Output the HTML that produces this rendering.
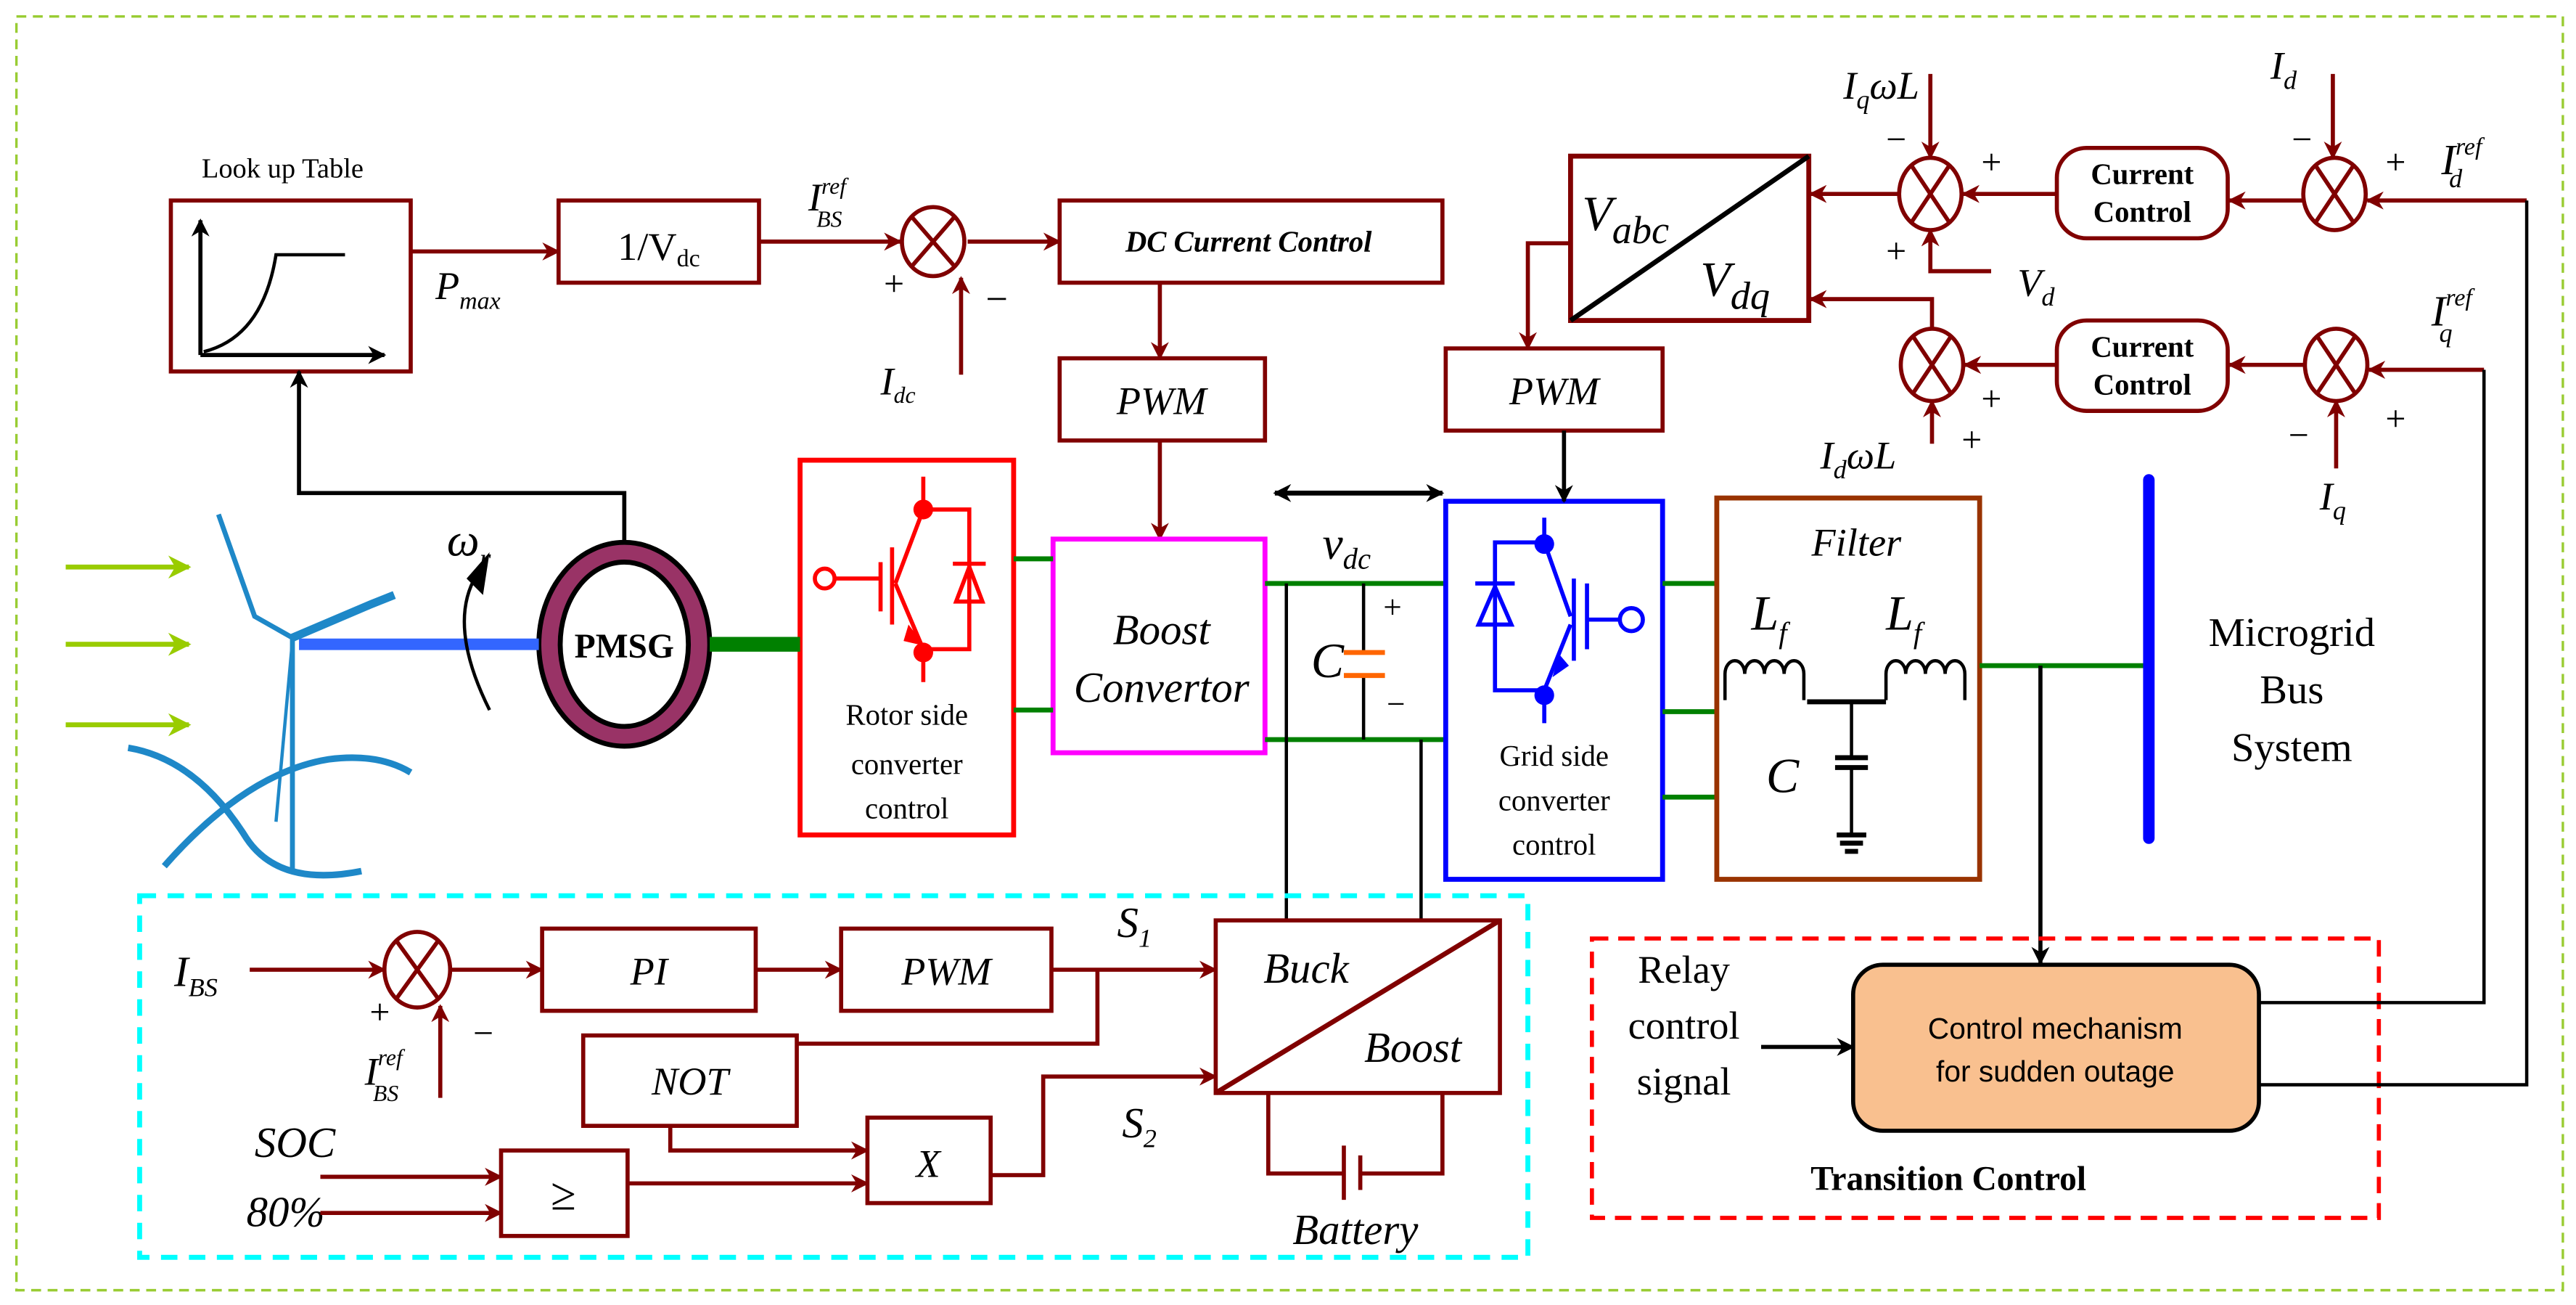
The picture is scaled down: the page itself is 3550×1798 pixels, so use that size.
<!DOCTYPE html>
<html><head><meta charset="utf-8"><style>
html,body{margin:0;padding:0;background:#fff}
svg{display:block}
text{font-family:"Liberation Serif",serif}
.it{font-style:italic}
</style></head><body>
<svg width="3550" height="1798" viewBox="0 0 1568 794" preserveAspectRatio="none" xmlns="http://www.w3.org/2000/svg">
<defs>
<marker id="ar" viewBox="0 0 10 10" refX="9" refY="5" markerWidth="14" markerHeight="11" orient="auto-start-reverse" markerUnits="userSpaceOnUse" ><path d="M0,0 L10,5 L0,10 L3,5z" fill="#800000"/></marker>
<marker id="ab" viewBox="0 0 10 10" refX="9" refY="5" markerWidth="14" markerHeight="11" orient="auto-start-reverse" markerUnits="userSpaceOnUse"><path d="M0,0 L10,5 L0,10 L3,5z" fill="#000"/></marker>
<marker id="ag" viewBox="0 0 10 10" refX="9" refY="5" markerWidth="14" markerHeight="14" orient="auto" markerUnits="userSpaceOnUse"><path d="M0,0 L10,5 L0,10 L3,5z" fill="#99cc00"/></marker>
</defs>
<style>
.r{stroke:#800000;fill:none;stroke-width:2.5}
.ra{stroke:#800000;fill:none;stroke-width:2.5;marker-end:url(#ar)}
.ba{stroke:#000;fill:none;stroke-width:2.5;marker-end:url(#ab)}
.b{stroke:#000;fill:none;stroke-width:2}
.g{stroke:#008000;stroke-width:3;fill:none}
</style>
<rect x="10" y="10" width="1550" height="775" fill="none" stroke="#99cc33" stroke-width="1.5" stroke-dasharray="6,4"/>

<text x="172" y="108" font-size="17" text-anchor="middle">Look up Table</text>
<rect x="104" y="122" width="146" height="104" class="r" stroke-width="3"/>
<line x1="122" y1="216" x2="122" y2="134" class="ba"/>
<line x1="122" y1="216" x2="234" y2="216" class="ba"/>
<path d="M124,214 Q160,205 168,155 L210,155" class="b"/>
<line x1="250" y1="153" x2="340" y2="153" class="ra"/>
<text x="265" y="182" font-size="24" class="it">P<tspan font-size="15" dy="6">max</tspan></text>
<rect x="340" y="122" width="122" height="50" class="r" stroke-width="3"/>
<text x="401" y="158" font-size="24" text-anchor="middle">1/V<tspan font-size="15" dy="4">dc</tspan></text>
<line x1="462" y1="147" x2="548" y2="147" class="ra"/>
<text x="492" y="128" font-size="24" class="it">I<tspan font-size="14" dy="-10">ref</tspan><tspan font-size="14" dx="-18" dy="20">BS</tspan></text>
<g class="r"><ellipse cx="568" cy="147" rx="19" ry="21"/><line x1="555" y1="132" x2="581" y2="162"/><line x1="581" y1="132" x2="555" y2="162"/></g>
<text x="538" y="180" font-size="22">+</text><text x="600" y="190" font-size="24">−</text>
<line x1="585" y1="228" x2="585" y2="169" class="ra"/>
<text x="536" y="240" font-size="24" class="it">I<tspan font-size="14" dy="5">dc</tspan></text>
<line x1="589" y1="147" x2="645" y2="147" class="ra"/>
<rect x="645" y="122" width="233" height="50" class="r" stroke-width="3"/>
<text x="760" y="153" font-size="18" font-weight="bold" class="it" text-anchor="middle">DC Current Control</text>
<line x1="706" y1="172" x2="706" y2="218" class="ra"/>
<rect x="645" y="218" width="125" height="50" class="r" stroke-width="3"/>
<text x="707" y="252" font-size="24" class="it" text-anchor="middle">PWM</text>
<line x1="706" y1="268" x2="706" y2="328" class="ra"/>

<rect x="641" y="328" width="129" height="130" fill="none" stroke="#ff00ff" stroke-width="3"/>
<text x="707" y="392" font-size="26" class="it" text-anchor="middle">Boost</text>
<text x="707" y="427" font-size="26" class="it" text-anchor="middle">Convertor</text>

<rect x="487" y="280" width="130" height="228" fill="none" stroke="#ff0000" stroke-width="3"/>
<g stroke="#ff0000" stroke-width="2.5" fill="none">
<line x1="562" y1="290" x2="562" y2="310"/><line x1="562" y1="395" x2="562" y2="415"/>
<path d="M562,310 L545,355 M562,395 L545,355"/>
<line x1="543" y1="333" x2="543" y2="380"/><line x1="536" y1="342" x2="536" y2="372"/>
<line x1="506" y1="352" x2="536" y2="352"/>
<path d="M562,310 H590 V395 H562"/>
<path d="M580,343 H600 M582,366 L590,345 L598,366 Z"/>
</g>
<circle cx="562" cy="310" r="6" fill="#ff0000"/><circle cx="562" cy="397" r="6" fill="#ff0000"/>
<circle cx="502" cy="352" r="6" fill="#fff" stroke="#ff0000" stroke-width="2.5"/>
<path d="M553,380 L563,393 L550,390z" fill="#ff0000"/>
<text x="552" y="441" font-size="18" text-anchor="middle">Rotor side</text>
<text x="552" y="471" font-size="18" text-anchor="middle">converter</text>
<text x="552" y="498" font-size="18" text-anchor="middle">control</text>
<line x1="617" y1="340" x2="641" y2="340" class="g"/><line x1="617" y1="432" x2="641" y2="432" class="g"/>

<ellipse cx="380" cy="392" rx="52" ry="62" fill="#993366" stroke="#000" stroke-width="3"/>
<ellipse cx="380" cy="392" rx="39" ry="50" fill="#fff" stroke="#000" stroke-width="3"/>
<text x="380" y="400" font-size="21" font-weight="bold" text-anchor="middle">PMSG</text>
<polyline points="380,330 380,300 182,300 182,226" class="ba"/>
<line x1="182" y1="392" x2="328" y2="392" stroke="#3366ff" stroke-width="7"/>
<line x1="432" y1="392" x2="487" y2="392" stroke="#008000" stroke-width="9"/>
<text x="272" y="338" font-size="28" class="it">ω<tspan font-size="18" dy="8">r</tspan></text>
<path d="M298,432 Q272,380 290,350" fill="none" stroke="#000" stroke-width="2"/>
<path d="M284,352 L298,336 L294,362z" fill="#000"/>

<line x1="40" y1="345" x2="115" y2="345" stroke="#99cc00" stroke-width="3" marker-end="url(#ag)"/>
<line x1="40" y1="392" x2="115" y2="392" stroke="#99cc00" stroke-width="3" marker-end="url(#ag)"/>
<line x1="40" y1="441" x2="115" y2="441" stroke="#99cc00" stroke-width="3" marker-end="url(#ag)"/>
<g stroke="#1e88c8" fill="none">
<path d="M133,313 L155,375 L178,388" stroke-width="3"/>
<path d="M178,388 L225,368 L240,362" stroke-width="5"/>
<path d="M178,390 L168,500" stroke-width="2"/>
<line x1="178" y1="388" x2="178" y2="530" stroke-width="3"/>
<path d="M78,455 Q120,462 150,510 Q170,540 220,530" stroke-width="4"/>
<path d="M100,527 Q150,470 200,462 Q230,458 250,470" stroke-width="4"/>
</g>

<line x1="770" y1="355" x2="880" y2="355" class="g"/><line x1="770" y1="450" x2="880" y2="450" class="g"/>
<line x1="830" y1="355" x2="830" y2="397" class="b"/><line x1="830" y1="412" x2="830" y2="450" class="b"/>
<line x1="818" y1="397" x2="843" y2="397" stroke="#ff6600" stroke-width="3"/><line x1="818" y1="411" x2="843" y2="411" stroke="#ff6600" stroke-width="3"/>
<text x="798" y="412" font-size="30" class="it">C</text>
<text x="842" y="376" font-size="20">+</text><text x="844" y="435" font-size="20">−</text>
<line x1="783" y1="355" x2="783" y2="560" class="b"/>
<line x1="865" y1="450" x2="865" y2="560" class="b"/>
<line x1="776" y1="300" x2="878" y2="300" stroke="#000" stroke-width="3" marker-end="url(#ab)" marker-start="url(#ab)"/>
<text x="805" y="340" font-size="28" class="it">v<tspan font-size="18" dy="6">dc</tspan></text>

<rect x="880" y="305" width="132" height="230" fill="none" stroke="#0000ff" stroke-width="3"/>
<g stroke="#0000ff" stroke-width="2.5" fill="none">
<line x1="940" y1="315" x2="940" y2="330"/><line x1="940" y1="420" x2="940" y2="440"/>
<path d="M940,330 L956,375 M940,420 L956,380"/>
<line x1="958" y1="352" x2="958" y2="402"/><line x1="966" y1="355" x2="966" y2="395"/>
<line x1="966" y1="377" x2="985" y2="377"/>
<path d="M940,330 H910 V420 H940"/>
<path d="M898,355 H922 M900,380 L910,357 L920,380 Z"/>
</g>
<circle cx="940" cy="331" r="6" fill="#0000ff"/><circle cx="940" cy="423" r="6" fill="#0000ff"/>
<circle cx="993" cy="377" r="7" fill="#fff" stroke="#0000ff" stroke-width="2.5"/>
<path d="M945,412 L949,398 L955,405z" fill="#0000ff"/>
<text x="946" y="466" font-size="18" text-anchor="middle">Grid side</text>
<text x="946" y="493" font-size="18" text-anchor="middle">converter</text>
<text x="946" y="520" font-size="18" text-anchor="middle">control</text>
<rect x="880" y="212" width="132" height="50" class="r" stroke-width="3"/>
<text x="946" y="246" font-size="24" class="it" text-anchor="middle">PWM</text>
<line x1="952" y1="262" x2="952" y2="305" class="ba"/>
<line x1="1012" y1="355" x2="1045" y2="355" class="g"/><line x1="1012" y1="433" x2="1045" y2="433" class="g"/><line x1="1012" y1="485" x2="1045" y2="485" class="g"/>

<rect x="1045" y="303" width="160" height="232" fill="none" stroke="#993300" stroke-width="3"/>
<text x="1130" y="338" font-size="24" class="it" text-anchor="middle">Filter</text>
<text x="1066" y="383" font-size="30" class="it">L<tspan font-size="18" dy="8">f</tspan></text>
<text x="1148" y="383" font-size="30" class="it">L<tspan font-size="18" dy="8">f</tspan></text>
<g stroke="#000" stroke-width="2" fill="none">
<path d="M1050,426 V410 a6,8 0 1 1 12,0 a6,8 0 1 1 12,0 a6,8 0 1 1 12,0 a6,8 0 1 1 12,0 V426"/>
<path d="M1148,426 V410 a6,8 0 1 1 12,0 a6,8 0 1 1 12,0 a6,8 0 1 1 12,0 a6,8 0 1 1 12,0 V426"/>
<line x1="1100" y1="427" x2="1148" y2="427" stroke-width="3"/>
<line x1="1127" y1="427" x2="1127" y2="508"/>
<line x1="1118" y1="508" x2="1136" y2="508" stroke-width="3"/><line x1="1120" y1="513" x2="1134" y2="513" stroke-width="3"/><line x1="1123" y1="518" x2="1131" y2="518" stroke-width="3"/>
</g>
<rect x="1117" y="461" width="20" height="5" fill="#fff"/>
<line x1="1117" y1="461" x2="1137" y2="461" stroke="#000" stroke-width="3"/><line x1="1117" y1="467" x2="1137" y2="467" stroke="#000" stroke-width="3"/>
<text x="1075" y="482" font-size="30" class="it">C</text>
<line x1="1205" y1="405" x2="1308" y2="405" class="g"/>
<line x1="1308" y1="292" x2="1308" y2="510" stroke="#0000ff" stroke-width="7" stroke-linecap="round"/>
<text x="1395" y="393" font-size="25" text-anchor="middle">Microgrid</text>
<text x="1395" y="428" font-size="25" text-anchor="middle">Bus</text>
<text x="1395" y="463" font-size="25" text-anchor="middle">System</text>
<line x1="1242" y1="405" x2="1242" y2="586" class="ba"/>

<rect x="956" y="95" width="145" height="100" fill="none" stroke="#800000" stroke-width="3"/>
<line x1="956" y1="195" x2="1101" y2="95" stroke="#000" stroke-width="3"/>
<text x="963" y="140" font-size="30" class="it">V<tspan font-size="24" dy="8">abc</tspan></text>
<text x="1035" y="180" font-size="30" class="it">V<tspan font-size="24" dy="8">dq</tspan></text>
<polyline points="956,148 930,148 930,212" class="ra"/>

<g class="r">
<ellipse cx="1175" cy="118" rx="19" ry="22"/><line x1="1163" y1="100" x2="1187" y2="136"/><line x1="1187" y1="100" x2="1163" y2="136"/>
<ellipse cx="1421" cy="118" rx="19" ry="22"/><line x1="1409" y1="100" x2="1433" y2="136"/><line x1="1433" y1="100" x2="1409" y2="136"/>
<ellipse cx="1176" cy="222" rx="19" ry="22"/><line x1="1164" y1="204" x2="1188" y2="240"/><line x1="1188" y1="204" x2="1164" y2="240"/>
<ellipse cx="1422" cy="222" rx="19" ry="22"/><line x1="1410" y1="204" x2="1434" y2="240"/><line x1="1434" y1="204" x2="1410" y2="240"/>
</g>
<rect x="1252" y="90" width="104" height="55" rx="18" class="r" stroke-width="3"/>
<rect x="1252" y="195" width="104" height="55" rx="18" class="r" stroke-width="3"/>
<text x="1304" y="112" font-size="18" font-weight="bold" text-anchor="middle">Current</text>
<text x="1304" y="135" font-size="18" font-weight="bold" text-anchor="middle">Control</text>
<text x="1304" y="217" font-size="18" font-weight="bold" text-anchor="middle">Current</text>
<text x="1304" y="240" font-size="18" font-weight="bold" text-anchor="middle">Control</text>
<line x1="1538" y1="122" x2="1441" y2="122" class="ra"/>
<line x1="1402" y1="122" x2="1357" y2="122" class="ra"/>
<line x1="1252" y1="118" x2="1195" y2="118" class="ra"/>
<line x1="1156" y1="118" x2="1102" y2="118" class="ra"/>
<line x1="1420" y1="45" x2="1420" y2="96" class="ra"/>
<line x1="1175" y1="45" x2="1175" y2="96" class="ra"/>
<polyline points="1212,165 1175,165 1175,140" class="ra"/>
<polyline points="1176,200 1176,182 1102,182" class="ra"/>
<line x1="1176" y1="270" x2="1176" y2="244" class="ra"/>
<line x1="1252" y1="222" x2="1196" y2="222" class="ra"/>
<line x1="1403" y1="222" x2="1357" y2="222" class="ra"/>
<line x1="1422" y1="285" x2="1422" y2="244" class="ra"/>
<line x1="1512" y1="225" x2="1442" y2="225" class="ra"/>
<text x="1122" y="60" font-size="24" class="it">I<tspan font-size="16" dy="6">q</tspan><tspan dy="-6">ωL</tspan></text>
<text x="1148" y="92" font-size="22">−</text><text x="1206" y="106" font-size="22">+</text><text x="1148" y="160" font-size="22">+</text>
<text x="1228" y="180" font-size="24" class="it">V<tspan font-size="16" dy="6">d</tspan></text>
<text x="1382" y="48" font-size="24" class="it">I<tspan font-size="16" dy="6">d</tspan></text>
<text x="1395" y="92" font-size="22">−</text><text x="1452" y="106" font-size="22">+</text>
<text x="1486" y="106" font-size="26" class="it">I<tspan font-size="15" dy="-12">ref</tspan><tspan font-size="16" dx="-20" dy="20">d</tspan></text>
<text x="1480" y="198" font-size="26" class="it">I<tspan font-size="15" dy="-12">ref</tspan><tspan font-size="16" dx="-20" dy="22">q</tspan></text>
<text x="1452" y="262" font-size="22">+</text><text x="1393" y="272" font-size="22">−</text>
<text x="1206" y="250" font-size="22">+</text><text x="1194" y="275" font-size="22">+</text>
<text x="1108" y="285" font-size="24" class="it">I<tspan font-size="16" dy="6">d</tspan><tspan dy="-6">ωL</tspan></text>
<text x="1412" y="310" font-size="24" class="it">I<tspan font-size="16" dy="6">q</tspan></text>

<rect x="969" y="571" width="479" height="170" fill="none" stroke="#ff0000" stroke-width="2.5" stroke-dasharray="10,6"/>
<text x="1025" y="598" font-size="24" text-anchor="middle">Relay</text>
<text x="1025" y="632" font-size="24" text-anchor="middle">control</text>
<text x="1025" y="666" font-size="24" text-anchor="middle">signal</text>
<line x1="1072" y1="637" x2="1128" y2="637" class="ba"/>
<rect x="1128" y="587" width="247" height="101" rx="18" fill="#f9c08f" stroke="#000" stroke-width="2.5"/>
<text x="1251" y="632" font-size="18" text-anchor="middle" style="font-family:'Liberation Sans',sans-serif">Control mechanism</text>
<text x="1251" y="658" font-size="18" text-anchor="middle" style="font-family:'Liberation Sans',sans-serif">for sudden outage</text>
<text x="1186" y="724" font-size="21" font-weight="bold" text-anchor="middle">Transition Control</text>
<polyline points="1375,610 1512,610 1512,225" class="b" stroke-width="2.5"/>
<polyline points="1375,660 1538,660 1538,122" class="b" stroke-width="2.5"/>

<rect x="85" y="545" width="845" height="220" fill="none" stroke="#00ffff" stroke-width="3" stroke-dasharray="10,7"/>
<text x="106" y="600" font-size="26" class="it">I<tspan font-size="16" dy="6">BS</tspan></text>
<line x1="152" y1="590" x2="234" y2="590" class="ra" stroke-width="3.5"/>
<g class="r"><ellipse cx="254" cy="590" rx="20" ry="23"/><line x1="241" y1="572" x2="267" y2="608"/><line x1="267" y1="572" x2="241" y2="608"/></g>
<text x="225" y="623" font-size="22">+</text><text x="288" y="636" font-size="22">−</text>
<line x1="268" y1="668" x2="268" y2="612" class="ra"/>
<text x="222" y="660" font-size="24" class="it">I<tspan font-size="14" dy="-12">ref</tspan><tspan font-size="14" dx="-18" dy="22">BS</tspan></text>
<line x1="274" y1="590" x2="330" y2="590" class="ra" stroke-width="3.5"/>
<rect x="330" y="565" width="130" height="50" class="r" stroke-width="3"/>
<text x="395" y="599" font-size="24" class="it" text-anchor="middle">PI</text>
<line x1="460" y1="590" x2="512" y2="590" class="ra" stroke-width="3.5"/>
<rect x="512" y="565" width="128" height="50" class="r" stroke-width="3"/>
<text x="576" y="599" font-size="24" class="it" text-anchor="middle">PWM</text>
<line x1="640" y1="590" x2="740" y2="590" class="ra" stroke-width="3.5"/>
<polyline points="668,590 668,635 485,635" class="r"/>
<text x="680" y="570" font-size="26" class="it">S<tspan font-size="16" dy="6">1</tspan></text>
<rect x="355" y="630" width="130" height="55" class="r" stroke-width="3"/>
<text x="420" y="666" font-size="24" class="it" text-anchor="middle">NOT</text>
<polyline points="408,685 408,700 528,700" class="ra" stroke-width="3"/>
<rect x="528" y="680" width="75" height="52" class="r" stroke-width="3"/>
<text x="565" y="716" font-size="24" class="it" text-anchor="middle">X</text>
<polyline points="603,715 635,715 635,655 740,655" class="ra" stroke-width="3"/>
<text x="683" y="692" font-size="26" class="it">S<tspan font-size="16" dy="6">2</tspan></text>
<text x="155" y="704" font-size="26" class="it">SOC</text>
<text x="150" y="746" font-size="26" class="it">80%</text>
<line x1="195" y1="716" x2="305" y2="716" class="ra" stroke-width="3.5"/>
<line x1="195" y1="738" x2="305" y2="738" class="ra" stroke-width="3.5"/>
<rect x="305" y="700" width="77" height="52" class="r" stroke-width="3"/>
<text x="343" y="736" font-size="28" text-anchor="middle">≥</text>
<line x1="382" y1="720" x2="528" y2="720" class="ra" stroke-width="3"/>
<rect x="740" y="560" width="173" height="105" class="r" stroke-width="3"/>
<line x1="740" y1="665" x2="913" y2="560" stroke="#800000" stroke-width="3"/>
<text x="795" y="598" font-size="26" class="it" text-anchor="middle">Buck</text>
<text x="860" y="646" font-size="26" class="it" text-anchor="middle">Boost</text>
<polyline points="772,665 772,714 818,714" class="r" stroke-width="3"/>
<polyline points="828,714 878,714 878,665" class="r" stroke-width="3"/>
<line x1="818" y1="697" x2="818" y2="730" class="r"/><line x1="828" y1="703" x2="828" y2="724" class="r" stroke-width="3"/>
<text x="825" y="757" font-size="26" class="it" text-anchor="middle">Battery</text>
</svg>
</body></html>
